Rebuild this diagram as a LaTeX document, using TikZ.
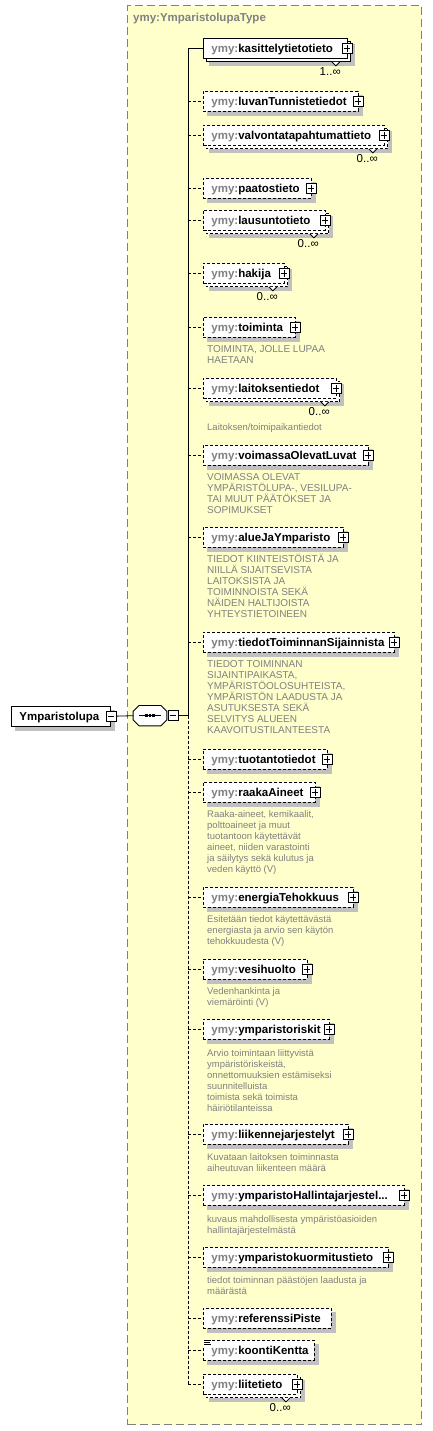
\documentclass[tikz,border=0pt]{standalone}
\usepackage{fontspec}
\setmainfont{Liberation Sans}
\usetikzlibrary{calc}
\definecolor{panelyellow}{RGB}{255,255,204}
\definecolor{pfxgray}{RGB}{128,128,128}
\definecolor{descgray}{RGB}{128,128,128}
\definecolor{shadowgray}{RGB}{192,192,192}
\definecolor{paneledge}{RGB}{128,128,128}
\pgfdeclarelayer{panellayer}
\pgfdeclarelayer{shadowlayer}
\pgfsetlayers{panellayer,shadowlayer,main}
\newcommand\elfont{\fontsize{11.5}{13}\selectfont\bfseries}
\newcommand\descU{\fontsize{10}{11}\selectfont}
\newcommand\descL{\fontsize{9.5}{11}\selectfont}
\newcommand\multfont{\fontsize{11.5}{13}\selectfont}
\newcommand\pfx[1]{\textcolor{pfxgray}{ymy:}#1}
\tikzset{
  elbox/.style={draw=black,line width=0.9pt,fill=white,inner xsep=8pt,inner ysep=0pt,
    minimum height=20pt,text height=9pt,text depth=0pt,align=left,font=\elfont,anchor=north west},
  optb/.style={dash pattern=on 3pt off 2pt},
  reqb/.style={solid},
  conn/.style={draw=black,line width=0.8pt},
  optconn/.style={conn,dash pattern=on 3pt off 2pt},
  pmbox/.style={draw=black,fill=white,line width=0.8pt,minimum size=10pt,inner sep=0pt},
  desc/.style={text=descgray,align=left,inner sep=0pt,anchor=north west},
  mult/.style={font=\multfont,inner sep=0pt,anchor=east},
  panelbox/.style={draw=paneledge,fill=panelyellow,line width=1.2pt,dash pattern=on 8pt off 4pt,
    minimum width=294pt,minimum height=1419pt,anchor=north west,inner sep=0pt},
}
\newcommand\elem[5]{%
  \pgfmathsetmacro\eltw{#3-219}%
  \node[elbox,#5,text width=\eltw pt] (#1) at (203,#2) {\pfx{#4}};}
\newcommand\shad[1]{%
  \begin{pgfonlayer}{shadowlayer}
  \fill[shadowgray] ([shift={(4,4)}]#1.north west) rectangle ([shift={(4,4)}]#1.south east);
  \end{pgfonlayer}}
\newcommand\stack[2]{%
  \begin{pgfonlayer}{shadowlayer}
  \fill[shadowgray] ([shift={(6,6)}]#1.north west) rectangle ([shift={(7,7)}]#1.south east);
  \draw[line width=0.9pt,#2,fill=white] ([shift={(3,3)}]#1.north west) rectangle ([shift={(3,3)}]#1.south east);
  \fill[white] ([shift={(-16,3)}]#1.south east) -- ([shift={(-12,7)}]#1.south east) -- ([shift={(-8,3)}]#1.south east) -- cycle;
  \draw[line width=0.8pt] ([shift={(-16,3)}]#1.south east) -- ([shift={(-12,7)}]#1.south east) -- ([shift={(-8,3)}]#1.south east);
  \end{pgfonlayer}}
\newcommand\plusb[1]{%
  \node[pmbox] (#1p) at ($(#1.east)+(-1,0)$) {};
  \draw[line width=0.8pt] ([xshift=2pt]#1p.west) -- ([xshift=-2pt]#1p.east)
    ([yshift=-2pt]#1p.north) -- ([yshift=2pt]#1p.south);}
\newcommand\multi[2]{\node[mult] (#1m) at ($(#1.south east)+(-7,13)$) {#2};}
\newcommand\desc[4]{\node[desc,font=#3] (#1) at (207,#2) {\rule{0pt}{9pt}#4};}
\begin{document}
\begin{tikzpicture}[x=1pt,y=-1pt]
\useasboundingbox (0,0) rectangle (432,1431);
\begin{pgfonlayer}{panellayer}
\node[panelbox] (panel) at (127,5) {};
\end{pgfonlayer}
\node[anchor=west,inner sep=0pt,font=\elfont,text=pfxgray] (ptitle) at (133,19) {ymy:YmparistolupaType};
\coordinate (trunk) at (188,0);

% root element
\node[elbox,reqb,text width=83pt] (root) at (11,705.7) {Ymparistolupa};
\shad{root}
\node[pmbox] (rootm) at (root.east) {};
\draw[line width=0.8pt] ([xshift=2pt]rootm.west) -- ([xshift=-2pt]rootm.east);

% sequence compositor
\node[inner sep=0pt,minimum width=33.4pt,minimum height=20pt] (seq) at (150,715.7) {};
\begin{pgfonlayer}{shadowlayer}
\fill[shadowgray,shift={(4,4)}] ([xshift=6pt]seq.north west) -- ([xshift=-6pt]seq.north east)
  -- ([yshift=-6pt]seq.north east) -- ([yshift=6pt]seq.south east) -- ([xshift=-6pt]seq.south east)
  -- ([xshift=6pt]seq.south west) -- ([yshift=6pt]seq.south west) -- ([yshift=-6pt]seq.north west) -- cycle;
\end{pgfonlayer}
\draw[line width=0.9pt,fill=white] ([xshift=6pt]seq.north west) -- ([xshift=-6pt]seq.north east)
  -- ([yshift=-6pt]seq.north east) -- ([yshift=6pt]seq.south east) -- ([xshift=-6pt]seq.south east)
  -- ([xshift=6pt]seq.south west) -- ([yshift=6pt]seq.south west) -- ([yshift=-6pt]seq.north west) -- cycle;
\draw[line width=0.9pt] ([xshift=-11pt]seq.center) -- ([xshift=11pt]seq.center);
\foreach \dx in {-3.6,0,3.6} {
  \fill ([shift={(\dx-1.3,-1.3)}]seq.center) rectangle ([shift={(\dx+1.3,1.3)}]seq.center);
}
\node[pmbox] (seqm) at ($(seq.east)+(6,0)$) {};
\draw[line width=0.8pt] ([xshift=2pt]seqm.west) -- ([xshift=-2pt]seqm.east);
\draw[conn] (rootm.east) -- (seq.west);
\draw[conn] (seqm.east) -- (trunk |- seqm.east);

% elements
\elem{e1}{38}{347}{kasittelytietotieto}{reqb}\stack{e1}{reqb}\plusb{e1}\multi{e1}{1..∞}
\elem{e2}{91}{358}{luvanTunnistetiedot}{optb}\shad{e2}\plusb{e2}
\elem{e3}{125}{384}{valvontatapahtumattieto}{optb}\stack{e3}{optb}\plusb{e3}\multi{e3}{0..∞}
\elem{e4}{178}{311}{paatostieto}{optb}\shad{e4}\plusb{e4}
\elem{e5}{210}{325}{lausuntotieto}{optb}\stack{e5}{optb}\plusb{e5}\multi{e5}{0..∞}
\elem{e6}{263}{284}{hakija}{optb}\stack{e6}{optb}\plusb{e6}\multi{e6}{0..∞}
\elem{e7}{317}{295}{toiminta}{optb}\shad{e7}\plusb{e7}
\desc{d7}{343}{\descU}{TOIMINTA, JOLLE LUPAA\\HAETAAN}
\elem{e8}{378}{336}{laitoksentiedot}{optb}\stack{e8}{optb}\plusb{e8}\multi{e8}{0..∞}
\desc{d8}{421}{\descL}{Laitoksen/toimipaikantiedot}
\elem{e9}{445}{368}{voimassaOlevatLuvat}{optb}\shad{e9}\plusb{e9}
\desc{d9}{471}{\descU}{VOIMASSA OLEVAT\\YMPÄRISTÖLUPA-, VESILUPA-\\TAI MUUT PÄÄTÖKSET JA\\SOPIMUKSET}
\elem{e10}{527}{343}{alueJaYmparisto}{optb}\shad{e10}\plusb{e10}
\desc{d10}{553}{\descU}{TIEDOT KIINTEISTÖISTÄ JA\\NIILLÄ SIJAITSEVISTA\\LAITOKSISTA JA\\TOIMINNOISTA SEKÄ\\NÄIDEN HALTIJOISTA\\YHTEYSTIETOINEEN}
\elem{e11}{632}{394}{tiedotToiminnanSijainnista}{optb}\shad{e11}\plusb{e11}
\desc{d11}{658}{\descU}{TIEDOT TOIMINNAN\\SIJAINTIPAIKASTA,\\YMPÄRISTÖOLOSUHTEISTA,\\YMPÄRISTÖN LAADUSTA JA\\ASUTUKSESTA SEKÄ\\SELVITYS ALUEEN\\KAAVOITUSTILANTEESTA}
\elem{e12}{749}{327}{tuotantotiedot}{optb}\shad{e12}\plusb{e12}
\elem{e13}{782}{315}{raakaAineet}{optb}\shad{e13}\plusb{e13}
\desc{d13}{808}{\descL}{Raaka-aineet, kemikaalit,\\polttoaineet ja muut\\tuotantoon käytettävät\\aineet, niiden varastointi\\ja säilytys sekä kulutus ja\\veden käyttö (V)}
\elem{e14}{887}{353}{energiaTehokkuus}{optb}\shad{e14}\plusb{e14}
\desc{d14}{913}{\descL}{Esitetään tiedot käytettävästä\\energiasta ja arvio sen käytön\\tehokkuudesta (V)}
\elem{e15}{959}{307}{vesihuolto}{optb}\shad{e15}\plusb{e15}
\desc{d15}{985}{\descL}{Vedenhankinta ja\\viemäröinti (V)}
\elem{e16}{1019}{329}{ymparistoriskit}{optb}\shad{e16}\plusb{e16}
\desc{d16}{1047}{\descL}{Arvio toimintaan liittyvistä\\ympäristöriskeistä,\\onnettomuuksien estämiseksi\\suunnitelluista\\toimista sekä toimista\\häiriötilanteissa}
\elem{e17}{1124}{348}{liikennejarjestelyt}{optb}\shad{e17}\plusb{e17}
\desc{d17}{1151}{\descL}{Kuvataan laitoksen toiminnasta\\aiheutuvan liikenteen määrä}
\elem{e18}{1185}{404}{ymparistoHallintajarjestel...}{optb}\shad{e18}\plusb{e18}
\desc{d18}{1213}{\descL}{kuvaus mahdollisesta ympäristöasioiden\\hallintajärjestelmästä}
\elem{e19}{1247}{388}{ymparistokuormitustieto}{optb}\shad{e19}\plusb{e19}
\desc{d19}{1274}{\descL}{tiedot toiminnan päästöjen laadusta ja\\määrästä}
\elem{e20}{1308}{331}{referenssiPiste}{optb}\shad{e20}
\elem{e21}{1340}{314}{koontiKentta}{optb}\shad{e21}
\fill[white] ([shift={(-0.5,-0.5)}]e21.north west) rectangle ([shift={(8,5.5)}]e21.north west);
\draw[line width=0.7pt] ([shift={(1,0.8)}]e21.north west) -- ++(7,0)
  ([shift={(1,2.8)}]e21.north west) -- ++(6,0)
  ([shift={(1,4.8)}]e21.north west) -- ++(7,0);
\elem{e22}{1374}{297}{liitetieto}{optb}\stack{e22}{optb}\plusb{e22}\multi{e22}{0..∞}

% trunk and connectors
\draw[conn] (trunk |- e1.west) -- (trunk |- seqm.east);
\draw[optconn] (trunk |- seqm.east) -- (trunk |- e22.west);
\draw[conn] (trunk |- e1.west) -- (e1.west);
\foreach \n in {e2,e3,e4,e5,e6,e7,e8,e9,e10,e11,e12,e13,e14,e15,e16,e17,e18,e19,e20,e21,e22} {
  \draw[optconn] (trunk |- \n.west) -- (\n.west);
}
\end{tikzpicture}
\end{document}
